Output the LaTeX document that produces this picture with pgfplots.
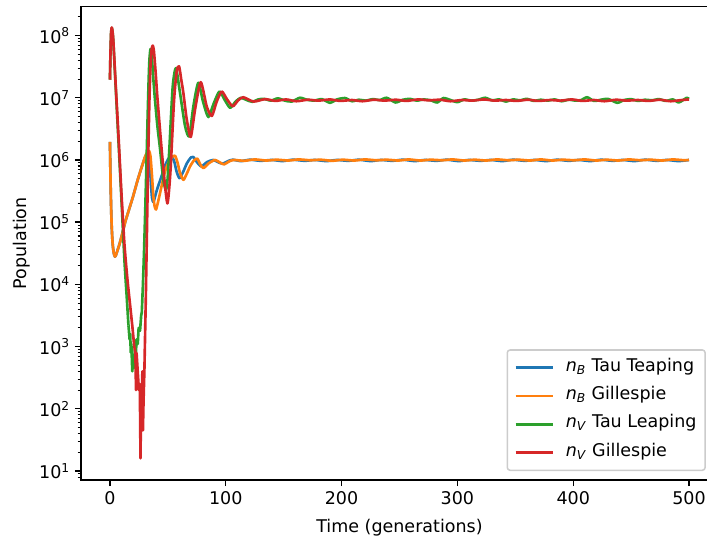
\documentclass[border=0pt]{standalone}
\usepackage{fontspec}
\setmainfont{DejaVu Sans}
\usepackage{pgfplots}
\pgfplotsset{compat=1.18}
\definecolor{tabblue}{HTML}{1F77B4}
\definecolor{taborange}{HTML}{FF7F0E}
\definecolor{tabgreen}{HTML}{2CA02C}
\definecolor{tabred}{HTML}{D62728}
\definecolor{leggray}{HTML}{CCCCCC}
\newcommand{\fs}{\fontsize{12.6pt}{15pt}\selectfont}
\begin{document}
\begin{tikzpicture}
\begin{axis}[
  at={(0,0)}, anchor=south west,
  scale only axis, width=458.6pt, height=340.9pt,
  xmin=-25, xmax=525, ymode=log, ymin=7.16, ymax=2.93e8,
  axis line style={line width=1pt},
  tick align=outside, tick pos=left,
  major tick length=4.4pt, minor tick length=2.5pt,
  major tick style={line width=1pt, black},
  minor tick style={line width=0.76pt, black},
  xtick={0,100,200,300,400,500},
  ytick={1e1,1e2,1e3,1e4,1e5,1e6,1e7,1e8},
  yticklabels={10\textsuperscript{1},10\textsuperscript{2},10\textsuperscript{3},10\textsuperscript{4},10\textsuperscript{5},10\textsuperscript{6},10\textsuperscript{7},10\textsuperscript{8}},
  minor ytick={8,9,20,30,40,50,60,70,80,90,200,300,400,500,600,700,800,900,
    2000,3000,4000,5000,6000,7000,8000,9000,2e4,3e4,4e4,5e4,6e4,7e4,8e4,9e4,
    2e5,3e5,4e5,5e5,6e5,7e5,8e5,9e5,2e6,3e6,4e6,5e6,6e6,7e6,8e6,9e6,
    2e7,3e7,4e7,5e7,6e7,7e7,8e7,9e7,2e8},
  /pgf/number format/assume math mode=true,
  tick label style={font=\fs},
  xlabel={Time (generations)}, ylabel={Population},
  xlabel style={font=\fs, at={(axis description cs:0.5,-0.1098)}, anchor=base},
  ylabel style={font=\fs, at={(axis description cs:-0.093,0.5)}, anchor=center, rotate=0},
  legend cell align=left,
  legend style={at={(axis description cs:0.981,0.019)}, anchor=south east,
    draw=leggray, line width=1.1pt, rounded corners=2pt, fill=white,
    font=\fs, row sep=8pt, column sep=7pt, inner xsep=5pt, inner ysep=6.5pt,
    nodes={inner sep=1.2pt, text height=0.75em, text depth=0.25em}},
  legend image code/.code={\draw[#1, line width=1.9pt] (0pt,0pt) -- (27pt,0pt);},
  every axis plot/.append style={line width=1.9pt, line join=round},
]
% n_B Tau Leaping
\addplot[tabblue, line width=1.9pt, smooth, tension=0.4] coordinates {
(0,1.95e6)(0.5,5.0e5)(1,1.78e5)(1.5,8.9e4)(2,5.6e4)(2.6,4.0e4)(3.3,3.2e4)(4.3,2.8e4)(5.3,3.0e4)(6.5,3.5e4)(8.5,4.6e4)(11,6.9e4)(13.5,1.05e5)(16.5,1.6e5)(20,2.6e5)(24,4.8e5)(28,8.3e5)(30.3,1.1e6)(32.2,1.3e6)(33.2,1.3e6)(34.3,9.0e5)(35.3,4.5e5)(36.3,2.5e5)(37.5,2.1e5)(39,2.6e5)(41,3.5e5)(44.6,5.5e5)(47.5,8.0e5)(50.5,1.05e6)(53.2,1.15e6)(55.5,9.5e5)(57.5,6.6e5)(60,5.1e5)(63,6.3e5)(66.5,8.9e5)(70,1.1e6)(72,1.12e6)(75,9.3e5)(78.9,7.9e5)(84,9.3e5)(89.2,1.0e6)(93,9.3e5)(97.3,8.7e5)(102,9.6e5)(106,1.01e6)
(113,9.6e5)(121,1.01e6)(130,9.7e5)(140,1.0e6)(149,9.6e5)(158,1.01e6)(168,9.7e5)(177,1.0e6)(187,9.6e5)(196,1.0e6)(206,9.7e5)(215,1.01e6)(225,9.6e5)(234,1.0e6)(244,9.7e5)(253,1.01e6)(263,9.6e5)(272,1.0e6)(282,9.7e5)(291,1.01e6)(301,9.6e5)(310,1.0e6)(320,9.7e5)(329,1.0e6)(339,9.6e5)(348,1.01e6)(358,9.7e5)(367,1.0e6)(377,9.6e5)(386,1.01e6)(396,9.7e5)(405,1.0e6)(415,9.6e5)(424,1.01e6)(434,9.7e5)(443,1.0e6)(453,9.6e5)(462,1.01e6)(472,9.7e5)(481,1.0e6)(491,9.6e5)(500,1.0e6)
};
\addlegendentry{\textit{n}\textsubscript{\textit{B}} Tau Teaping}
% n_B Gillespie
\addplot[taborange, line width=1.9pt, smooth, tension=0.4] coordinates {
(0,1.95e6)(0.5,5.0e5)(1,1.78e5)(1.5,8.9e4)(2,5.6e4)(2.6,4.0e4)(3.3,3.2e4)(4.3,2.8e4)(5.3,3.0e4)(6.5,3.5e4)(8.5,4.6e4)(11,6.9e4)(13.5,1.05e5)(16.5,1.6e5)(20,2.6e5)(24,4.8e5)(28,8.3e5)(30.5,1.15e6)(32.5,1.35e6)(33.8,1.4e6)(35,1.15e6)(36.3,5.6e5)(37.5,2.6e5)(38.6,1.8e5)(39.8,1.6e5)(41.5,2.1e5)(44.6,3.8e5)(47.5,6.5e5)(50.4,8.9e5)(53.3,1.1e6)(56.2,1.17e6)(58.5,8.9e5)(60.5,6.2e5)(63.4,4.8e5)(66.3,6.0e5)(69.2,7.9e5)(72.5,9.8e5)(75.5,1.05e6)(78,8.5e5)(80.7,7.4e5)(85.5,8.9e5)(90.8,1.0e6)(95,9.1e5)(98.6,8.5e5)(103,9.5e5)(107,1.0e6)
(116,9.7e5)(125,1.02e6)(135,9.8e5)(144,1.01e6)(154,9.8e5)(163,1.02e6)(173,9.9e5)(182,1.01e6)(192,9.7e5)(201,1.01e6)(211,9.8e5)(220,1.02e6)(230,9.9e5)(239,1.01e6)(249,9.8e5)(258,1.02e6)(268,9.8e5)(277,1.01e6)(287,9.9e5)(296,1.02e6)(306,9.8e5)(315,1.01e6)(325,9.8e5)(334,1.02e6)(344,9.9e5)(353,1.01e6)(363,9.8e5)(372,1.02e6)(382,9.8e5)(391,1.01e6)(401,9.9e5)(410,1.02e6)(420,9.8e5)(429,1.01e6)(439,9.8e5)(448,1.02e6)(458,9.9e5)(467,1.01e6)(477,9.8e5)(486,1.02e6)(496,9.9e5)(500,1.0e6)
};
\addlegendentry{\textit{n}\textsubscript{\textit{B}} Gillespie}
% n_V Tau Leaping
\addplot[tabgreen, line width=1.9pt, smooth, tension=0.4] coordinates {
(0,1.95e7)(0.5,5.5e7)(1,1.1e8)(1.6,1.33e8)(2.3,1.12e8)(3,7.6e7)(5,1.45e7)(7.5,1.8e6)(10,2.2e5)(12.5,2.5e4)(14.5,6.3e3)(16,2.2e3)
};
\addlegendentry{\textit{n}\textsubscript{\textit{V}} Tau Leaping}
\addplot[tabgreen, line width=1.9pt, forget plot] coordinates {
(16,2.2e3)(17,1.3e3)(17.5,1.6e3)(18,8.0e2)(18.5,1.1e3)(19.3,4.0e2)(20,6.0e2)(20.7,4.5e2)(21.5,9.0e2)(22.3,7.0e2)(23,1.3e3)(24,1.1e3)(24.8,2.0e3)(26,1.8e3)(27,3.2e3)(27.5,3.5e3)(28.5,1.0e4)(29.5,3.6e4)(30.5,1.6e5)(31.5,8.0e5)
};
\addplot[tabgreen, line width=1.9pt, smooth, tension=0.4, forget plot] coordinates {
(31.5,8.0e5)(32.5,4.5e6)(33.3,1.6e7)(34,3.8e7)(34.8,5.8e7)(35.4,6.0e7)(36.2,4.5e7)(37.5,2.0e7)(38.9,9.3e6)(41,3.5e6)(43.3,1.5e6)(46.1,4.8e5)(48.4,3.3e5)(49.8,5.0e5)(51.3,1.5e6)(54.2,1.5e7)(57,3.0e7)(60.5,1.2e7)(64.9,3.5e6)(68.5,2.4e6)(72,7.2e6)(76.3,1.74e7)(80.5,8.5e6)(85,4.9e6)(89.5,8.0e6)(94.5,1.26e7)(99,9.3e6)(103.8,6.9e6)(108.5,8.7e6)(113,1.0e7)
(118,9.2e6)(123,8.6e6)(128,9.4e6)(133,9.6e6)(139,9.0e6)(145,9.8e6)(151,9.0e6)(157,8.7e6)(164,1.0e7)(170,9.3e6)(176,9.0e6)(183,9.5e6)(190,8.3e6)(196,9.4e6)(203,9.9e6)(209,8.8e6)(215,9.3e6)(221,9.0e6)(227,9.5e6)(233,9.2e6)(239,1.0e7)(246.5,8.4e6)(253,9.3e6)(259,9.6e6)(265,9.0e6)(271,9.4e6)(277,9.1e6)(282.6,8.4e6)(288,9.9e6)(294,9.2e6)(300,8.5e6)(306,9.4e6)(312,9.0e6)(318,9.3e6)(324,1.0e7)(330,9.1e6)(336,9.4e6)(342,8.7e6)(348,9.4e6)(354,9.1e6)(360,9.6e6)(366,8.9e6)(372,9.3e6)(378,9.0e6)(384,9.4e6)(390,8.8e6)(396,9.3e6)(402,9.0e6)(407,9.2e6)(412,1.02e7)(418,8.9e6)(424,9.3e6)(430,9.6e6)(438,8.3e6)(444,9.2e6)(450,9.5e6)(456,8.9e6)(462,9.3e6)(468,9.1e6)(474,9.5e6)(480,8.9e6)(486,9.4e6)(491,8.4e6)(495,9.2e6)(498,1.0e7)(500,9.6e6)
};
% n_V Gillespie
\addplot[tabred, line width=1.9pt, smooth, tension=0.4] coordinates {
(0,1.95e7)(0.5,5.5e7)(1,1.1e8)(1.6,1.35e8)(2.3,1.15e8)(3,7.9e7)(5,1.58e7)(7.5,2.24e6)(10,2.8e5)(12.5,4.5e4)(15,1.26e4)(17.5,4.5e3)(19.5,2.0e3)
};
\addlegendentry{\textit{n}\textsubscript{\textit{V}} Gillespie}
\addplot[tabred, line width=1.9pt, forget plot] coordinates {
(19.5,2.0e3)(21,1.0e3)(22,8.0e2)(22.5,2.0e2)(23,7.9e2)(24,4.0e2)(25,2.0e2)(25.8,2.5e2)(26.4,16)(27,2.0e2)(27.5,1.0e2)(28,4.0e2)(28.5,45)(29,1.3e2)(29.8,4.5e2)(31,6.3e3)(32,7.9e4)(33,1.0e6)(34,7.9e6)
};
\addplot[tabred, line width=1.9pt, smooth, tension=0.4, forget plot] coordinates {
(34,7.9e6)(35,3.2e7)(36,6.0e7)(37,6.9e7)(38,5.6e7)(39.5,2.5e7)(41,1.0e7)(44.6,1.5e6)(47.6,3.8e5)(49.6,2.0e5)(51,3.2e5)(52.5,7.9e5)(55.4,9.3e6)(57.7,2.7e7)(59.7,3.2e7)(61.5,2.0e7)(63.4,1.2e7)(66.3,4.5e6)(69.8,2.35e6)(73.5,6.5e6)(78.4,1.78e7)(83.6,7.2e6)(88,5.1e6)(92,8.5e6)(96.5,1.26e7)(101,9.5e6)(106,7.3e6)(110.5,9.0e6)(115,1.02e7)(124,8.7e6)(134,9.5e6)
(143,8.9e6)(152,9.4e6)(161,8.8e6)(171,9.3e6)(180,9.0e6)(190,9.4e6)(199,8.9e6)(209,9.2e6)(218,8.8e6)(228,9.3e6)(237,9.0e6)(247,9.3e6)(256,8.9e6)(266,9.4e6)(275,9.1e6)(285,9.3e6)(294,8.8e6)(304,9.2e6)(313,9.0e6)(323,9.4e6)(332,9.0e6)(342,9.2e6)(351,8.9e6)(361,9.3e6)(370,8.9e6)(380,9.2e6)(389,9.0e6)(399,9.4e6)(408,8.9e6)(418,9.2e6)(427,8.8e6)(437,9.3e6)(446,9.0e6)(456,9.2e6)(465,8.9e6)(475,9.3e6)(484,8.8e6)(494,9.2e6)(500,9.4e6)
};
\end{axis}
\pgfresetboundingbox
\useasboundingbox (-58.3pt,-42.5pt) rectangle (450.7pt,345.6pt);
\end{tikzpicture}
\end{document}
